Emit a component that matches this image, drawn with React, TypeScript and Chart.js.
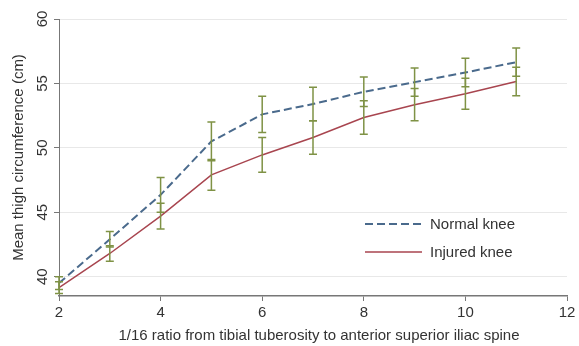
import React, { useEffect, useRef } from 'react';
import { Chart, registerables } from 'chart.js';

Chart.register(...registerables);

const ratios = [2, 3, 4, 5, 6, 7, 8, 9, 10, 11];
const normalMean = [39.5, 42.9, 46.35, 50.5, 52.6, 53.4, 54.35, 55.1, 55.85, 56.65];
const normalErr = [0.5, 0.6, 1.35, 1.5, 1.4, 1.3, 1.15, 1.1, 1.1, 1.1];
const injuredMean = [39.15, 41.8, 44.7, 47.9, 49.45, 50.8, 52.35, 53.35, 54.2, 55.15];
const injuredErr = [0.45, 0.6, 1.0, 1.2, 1.35, 1.3, 1.3, 1.25, 1.2, 1.1];
const seriesLabels = ['Normal knee', 'Injured knee'];
const xTitle = '1/16 ratio from tibial tuberosity to anterior superior iliac spine';
const yTitle = 'Mean thigh circumference (cm)';
const xRange = [2, 12];
const yRange = [38.5, 60];
const xStep = 2;
const yStep = 5;

const FONT = "'Liberation Sans', Arial, sans-serif";

export default function App() {
  const ref = useRef<HTMLCanvasElement>(null);

  useEffect(() => {
    if (!ref.current) return;

    const errorBars = {
      id: 'errorBars',
      afterDatasetsDraw(chart: any) {
        const { ctx, scales } = chart;
        const x = scales.x;
        const y = scales.y;
        ctx.save();
        ctx.strokeStyle = '#7f9245';
        ctx.lineWidth = 1.5;
        chart.data.datasets.forEach((ds: any) => {
          ds.data.forEach((pt: any, i: number) => {
            const e = ds.err[i];
            const px = x.getPixelForValue(pt.x);
            const top = y.getPixelForValue(pt.y + e);
            const bot = y.getPixelForValue(pt.y - e);
            ctx.beginPath();
            ctx.moveTo(px, top);
            ctx.lineTo(px, bot);
            ctx.moveTo(px - 4, top);
            ctx.lineTo(px + 4, top);
            ctx.moveTo(px - 4, bot);
            ctx.lineTo(px + 4, bot);
            ctx.stroke();
          });
        });
        ctx.restore();
      },
    };

    const legendBox = {
      id: 'legendBox',
      afterDraw(chart: any) {
        const { ctx, chartArea } = chart;
        ctx.save();
        const x0 = chartArea.left + 306;
        const x1 = x0 + 57;
        let yy = chartArea.top + 205;
        chart.data.datasets.forEach((ds: any) => {
          ctx.beginPath();
          ctx.strokeStyle = ds.borderColor;
          ctx.lineWidth = ds.borderWidth;
          ctx.setLineDash(ds.borderDash || []);
          ctx.moveTo(x0, yy);
          ctx.lineTo(x1, yy);
          ctx.stroke();
          ctx.setLineDash([]);
          ctx.fillStyle = '#333';
          ctx.font = `15px ${FONT}`;
          ctx.textBaseline = 'middle';
          ctx.textAlign = 'left';
          ctx.fillText(ds.label, x1 + 8, yy + 1);
          yy += 28;
        });
        // x-axis title, centred slightly right of the plot centre as in the reference
        ctx.fillStyle = '#333';
        ctx.font = `15px ${FONT}`;
        ctx.textAlign = 'center';
        ctx.textBaseline = 'middle';
        ctx.fillText(xTitle, (chartArea.left + chartArea.right) / 2 + 6, chart.height - 10);
        ctx.restore();
      },
    };

    const chart = new Chart(ref.current, {
      type: 'line',
      data: {
        datasets: [
          {
            label: seriesLabels[0],
            data: ratios.map((r, i) => ({ x: r, y: normalMean[i] })),
            err: normalErr,
            borderColor: '#4a6a8c',
            borderWidth: 2,
            borderDash: [8, 4],
            pointRadius: 0,
            fill: false,
            tension: 0,
          } as any,
          {
            label: seriesLabels[1],
            data: ratios.map((r, i) => ({ x: r, y: injuredMean[i] })),
            err: injuredErr,
            borderColor: '#a8454f',
            borderWidth: 1.5,
            pointRadius: 0,
            fill: false,
            tension: 0,
          } as any,
        ],
      },
      options: {
        animation: false,
        responsive: false,
        maintainAspectRatio: false,
        layout: { padding: { top: 19, right: 12, left: 0, bottom: 0 } },
        plugins: {
          legend: { display: false },
          tooltip: { enabled: false },
        },
        scales: {
          x: {
            type: 'linear',
            min: xRange[0],
            max: xRange[1],
            ticks: {
              stepSize: xStep,
              color: '#333',
              font: { family: FONT, size: 15 },
              padding: 3,
              maxRotation: 0,
            },
            grid: {
              drawOnChartArea: false,
              drawTicks: true,
              tickLength: 5,
              color: '#777',
            },
            border: { color: '#777', width: 1.5 },
            title: { display: false },
            afterFit: (s: any) => {
              s.height = 50;
            },
          },
          y: {
            type: 'linear',
            min: yRange[0],
            max: yRange[1],
            ticks: {
              stepSize: yStep,
              includeBounds: false,
              minRotation: 90,
              maxRotation: 90,
              crossAlign: 'center',
              padding: 3,
              color: '#333',
              font: { family: FONT, size: 15 },
            },
            grid: {
              color: '#e8e8e8',
              tickColor: '#777',
              tickLength: 5,
              drawTicks: true,
            },
            border: { color: '#777', width: 1 },
            title: {
              display: true,
              text: yTitle,
              color: '#333',
              font: { family: FONT, size: 15 },
              padding: { top: 10, bottom: 0 },
            },
            afterFit: (s: any) => {
              s.width = 59;
            },
          },
        },
      } as any,
      plugins: [errorBars, legendBox],
    });

    return () => chart.destroy();
  }, []);

  return (
    <div style={{ position: 'fixed', left: 0, top: 0, width: 579, height: 346, background: '#fff' }}>
      <canvas ref={ref} width={579} height={346} />
    </div>
  );
}
